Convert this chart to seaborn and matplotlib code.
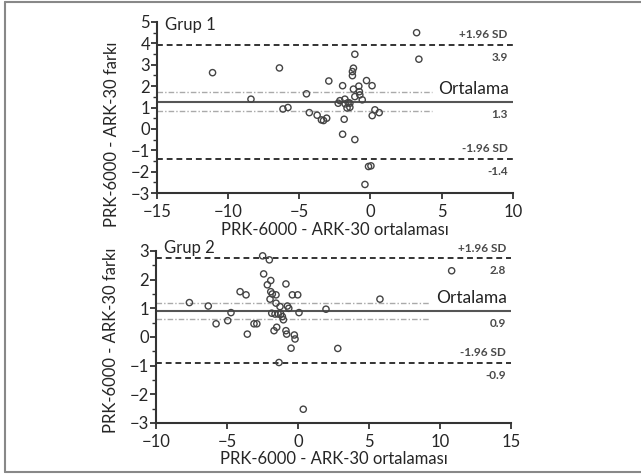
import numpy as np
import pandas as pd
import matplotlib
matplotlib.use("Agg")
import matplotlib.pyplot as plt
import seaborn as sns
from matplotlib.ticker import MultipleLocator
from matplotlib.lines import Line2D

# Grup 1 - ortalama (x) ve fark (y)
g1_x = [-11.1, -6.4, -8.4, -2.93, -4.5, -6.15, -5.8, -4.3, -3.75, -3.45, -3.3, -3.08,
        -2.27, -2.15, -1.96, -1.8, -1.85, -1.96, -1.65, -1.57, -1.45, -1.45, -1.27, -1.27,
        -1.2, -1.2, -1.1, -1.1, -1.1, -0.82, -0.78, -0.75, -0.58, -0.28, 0.11, 0.31,
        0.61, 0.12, -0.14, 0.03, -0.39, 3.24, 3.4, -1.78]
g1_y = [2.63, 2.85, 1.39, 2.24, 1.64, 0.93, 1.0, 0.76, 0.64, 0.42, 0.39, 0.5,
        1.2, 1.32, 2.02, 1.39, 0.45, -0.25, 0.98, 1.23, 1.01, 1.2, 2.68, 2.49,
        2.84, 1.86, 3.49, -0.5, 1.51, 2.0, 1.74, 1.59, 1.36, 2.26, 2.02, 0.89,
        0.76, 0.62, -1.76, -1.73, -2.6, 4.5, 3.26, 1.17]

# Grup 2
g2_x = [-7.65, -6.32, -5.77, -4.95, -4.72, -4.08, -3.66, -3.57, -3.1, -2.9,
        -2.49, -2.02, -2.42, -2.16, -1.92, -1.97, -1.92, -1.81, -1.55, -1.55,
        -1.27, -1.85, -1.62, -1.39, -1.22, -1.1, -1.03, -0.85, -0.75, -0.65,
        -0.4, -0.02, 0.07, -1.5, -1.69, -0.85, -0.8, -0.26, -0.21, -0.49,
        -1.34, 0.37, 1.97, 2.8, 5.77, 10.82]
g2_y = [1.2, 1.08, 0.46, 0.57, 0.85, 1.58, 1.47, 0.1, 0.46, 0.46,
        2.83, 2.69, 2.2, 1.82, 1.97, 1.32, 1.58, 1.5, 1.47, 1.18,
        1.06, 0.83, 0.8, 0.8, 0.8, 0.71, 0.6, 1.85, 1.08, 1.0,
        1.47, 1.47, 0.85, 0.34, 0.22, 0.22, 0.1, 0.07, -0.07, -0.39,
        -0.89, -2.52, 0.97, -0.4, 1.32, 2.31]

# ortalama, +1.96 SD, -1.96 SD, ortalamanin guven araligi
g1_lines = {"mean": 1.28, "upper": 3.94, "lower": -1.39, "ci": (0.84, 1.71)}
g2_lines = {"mean": 0.91, "upper": 2.76, "lower": -0.89, "ci": (0.63, 1.18)}

groups = ["Grup 1", "Grup 2"]
xlims = [(-15, 10), (-10, 15)]
ylims = [(-3, 5), (-3, 3)]

sns.set_style("ticks")
plt.rcParams["font.family"] = ["Lato", "DejaVu Sans"]

fig = plt.figure(figsize=(6.41, 4.74), dpi=100)
ax1 = fig.add_axes([0.245, 0.5928, 0.555, 0.3608])
ax2 = fig.add_axes([0.2434, 0.1076, 0.5538, 0.3629])

data = [(g1_x, g1_y, g1_lines), (g2_x, g2_y, g2_lines)]
ylab_pos = [0.345, 0.48]
grp_pos = [0.98, 1.02]

for i, ax in enumerate([ax1, ax2]):
    xs, ys, ln = data[i]
    df = pd.DataFrame({"ort": xs, "fark": ys})

    ax.axhline(ln["upper"], color="#333333", ls=(0, (3, 2)), lw=1.4, zorder=1)
    ax.axhline(ln["lower"], color="#333333", ls=(0, (3, 2)), lw=1.4, zorder=1)
    ax.axhline(ln["mean"], color="#555555", lw=1.5, zorder=1)
    for c in ln["ci"]:
        ax.axhline(c, xmax=0.772, color="#aaaaaa", ls=(0, (4, 1.5, 1, 1.5)), lw=1.0, zorder=1)

    sns.scatterplot(data=df, x="ort", y="fark", ax=ax, marker="o", s=20,
                    facecolor="none", edgecolor="#444444", linewidth=1.0, zorder=3)

    ax.set_xlim(*xlims[i])
    ax.set_ylim(*ylims[i])
    ax.xaxis.set_major_locator(MultipleLocator(5))
    ax.yaxis.set_major_locator(MultipleLocator(1))
    ax.yaxis.set_minor_locator(MultipleLocator(0.5))
    ax.tick_params(axis="both", which="major", labelsize=12, length=4, width=1.3,
                   color="#333333", pad=1)
    ax.tick_params(axis="x", which="major", pad=4)
    ax.tick_params(axis="y", which="minor", length=3, width=1.0, color="#333333")
    sns.despine(ax=ax)
    for s in ["left", "bottom"]:
        ax.spines[s].set_linewidth(1.5)
        ax.spines[s].set_color("#333333")

    ax.set_xlabel("PRK-6000 - ARK-30 ortalaması", fontsize=12, labelpad=1)
    ax.set_ylabel("PRK-6000 - ARK-30 farkı", fontsize=12)
    ax.yaxis.set_label_coords(-0.104, ylab_pos[i])

    ax.text(0.022, grp_pos[i], groups[i], transform=ax.transAxes, fontsize=12,
            va="center", ha="left")

    trans = ax.get_yaxis_transform()
    lab = dict(xycoords=trans, ha="right", va="center", fontsize=8.5, fontweight="bold",
               color="#4a4a4a", textcoords="offset points")
    ax.annotate("+1.96 SD", (0.986, ln["upper"]), xytext=(0, 7), **lab)
    ax.annotate(f"{ln['upper']:.1f}", (0.986, ln["upper"]), xytext=(0, -9), **lab)
    ax.annotate("-1.96 SD", (0.986, ln["lower"]), xytext=(0, 7), **lab)
    ax.annotate(f"{ln['lower']:.1f}", (0.986, ln["lower"]), xytext=(0, -9), **lab)
    ax.annotate(f"{ln['mean']:.1f}", (0.986, ln["mean"]), xytext=(0, -9), **lab)
    ax.annotate("Ortalama", (0.99, ln["mean"]), xycoords=trans, xytext=(0, 9),
                textcoords="offset points", ha="right", va="center", fontsize=12.5,
                color="#222222")

# cerceve
for xy in [([5 / 641, 5 / 641], [2 / 474, 472 / 474]),
           ([5 / 641, 1.0], [472 / 474, 472 / 474]),
           ([5 / 641, 1.0], [2 / 474, 2 / 474])]:
    fig.add_artist(Line2D(xy[0], xy[1], color="#888888", lw=1.5))

fig.savefig("out.png", dpi=100)
